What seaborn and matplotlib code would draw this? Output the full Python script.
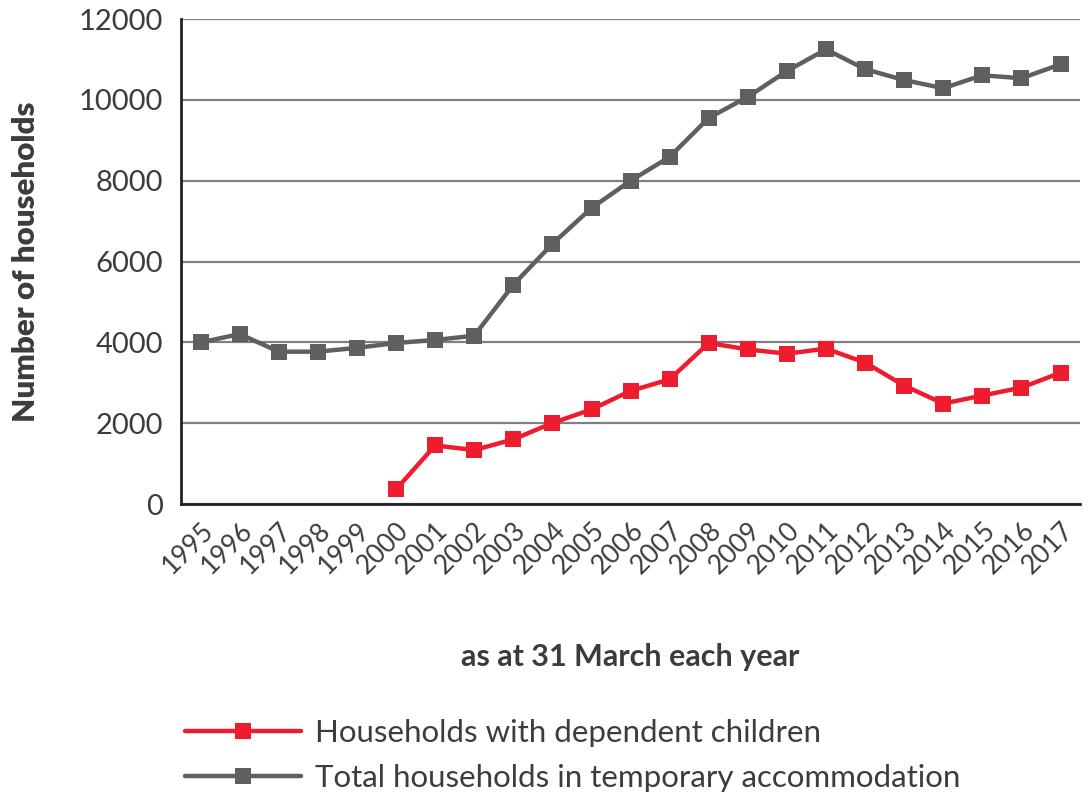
import matplotlib
matplotlib.use("Agg")
from matplotlib import pyplot as plt
from matplotlib.lines import Line2D
import seaborn as sns
import pandas as pd

years = list(range(1995, 2018))
total = [4000, 4205, 3770, 3770, 3865, 3985, 4060, 4165, 5425, 6440, 7325,
         8000, 8590, 9555, 10075, 10715, 11250, 10760, 10490, 10290, 10610, 10535, 10880]
children_years = list(range(2000, 2018))
children = [365, 1450, 1335, 1600, 2005, 2340, 2800, 3085, 3985, 3825, 3720,
            3845, 3500, 2930, 2485, 2685, 2880, 3250]

label_children = "Households with dependent children"
label_total = "Total households in temporary accommodation"

df = pd.concat([
    pd.DataFrame({"year": children_years, "value": children, "series": label_children}),
    pd.DataFrame({"year": years, "value": total, "series": label_total}),
])

red = "#ED1C2E"
grey = "#5F5F61"
text_c = "#3C3C3E"

sns.set_style("white")
plt.rcParams['font.family'] = ['Lato', 'DejaVu Sans']
plt.rcParams['text.color'] = text_c
plt.rcParams['axes.labelcolor'] = text_c
plt.rcParams['xtick.color'] = text_c
plt.rcParams['ytick.color'] = text_c

fig = plt.figure(figsize=(10.91, 7.95), dpi=100)
ax = fig.add_axes([0.166, 0.366, 0.824, 0.61])

sns.lineplot(data=df, x="year", y="value", hue="series",
             palette={label_children: red, label_total: grey},
             hue_order=[label_total, label_children],
             style="series", markers={label_children: "s", label_total: "s"},
             dashes=False, linewidth=3.2, markersize=12, markeredgewidth=0,
             legend=False, ax=ax)

ax.set_xlim(years[0] - 0.5, years[-1] + 0.5)
ax.set_ylim(0, 12000)
ax.set_yticks(range(0, 12001, 2000))
ax.yaxis.grid(True, color="#808080", linewidth=1.6)
ax.set_axisbelow(True)

ax.set_xticks(years)
ax.set_xticklabels([str(y) for y in years], rotation=45, ha="right",
                   rotation_mode="anchor", fontsize=19)
ax.set_xticks([y + 0.5 for y in years[:-1]], minor=True)
ax.tick_params(axis="x", which="major", length=0, pad=10)
ax.tick_params(axis="x", which="minor", direction="in", length=8, width=2, color="#222222")
ax.tick_params(axis="y", length=0, labelsize=21, pad=13)

sns.despine(ax=ax)
for s in ["left", "bottom"]:
    ax.spines[s].set_color("#222222")
    ax.spines[s].set_linewidth(2)

ax.set_ylabel("Number of households", fontsize=22.5, fontweight="heavy", labelpad=28)
ax.set_xlabel("as at 31 March each year", fontsize=22, fontweight="bold", labelpad=46)

handles = [
    Line2D([], [], color=red, linewidth=3.2, marker="s", markersize=12, markeredgewidth=0),
    Line2D([], [], color=grey, linewidth=3.2, marker="s", markersize=12, markeredgewidth=0),
]
fig.legend(handles, [label_children, label_total], loc="upper left",
           bbox_to_anchor=(0.144, 0.131), frameon=False, fontsize=22.5,
           handlelength=3.7, handletextpad=0.45, labelspacing=0.55)

plt.savefig("out.png", dpi=100)
